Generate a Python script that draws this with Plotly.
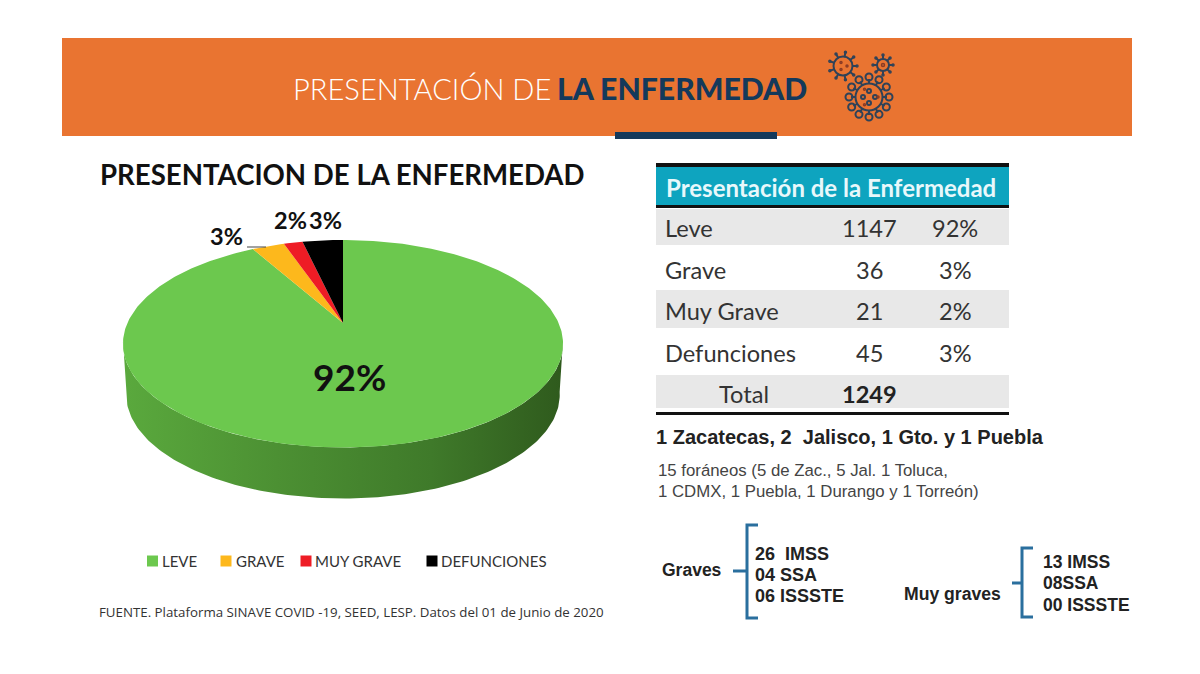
import numpy as np
import plotly.graph_objects as go

# table / pie data
categories = ['Leve', 'Grave', 'Muy Grave', 'Defunciones']
legend_names = ['LEVE', 'GRAVE', 'MUY GRAVE', 'DEFUNCIONES']
casos = [1147, 36, 21, 45]
porcentajes = ['92%', '3%', '2%', '3%']
total = 1249
colores = ['#6cc84e', '#fdb81c', '#ee1c25', '#000000']

graves = ['26  IMSS', '04 SSA', '06 ISSSTE']
muy_graves = ['13 IMSS', '08SSA', '00 ISSSTE']
foraneos = ['15 foráneos (5 de Zac., 5 Jal. 1 Toluca,', '1 CDMX, 1 Puebla, 1 Durango y 1 Torreón)']

NAVY = '#14395b'
BRACE = '#2a6f9e'
ICON = '#2f4258'

# the pie is a tilted disc, so it is drawn in perspective on a pixel axis
CX, CY = 343, 323
SX, SY, K = 215.6, 99.6, 0.2
DEPTH = 51


def disc(theta):
    u, v = np.sin(theta), np.cos(theta)
    return CX + SX * u / (1 + K * v), CY - SY * v / (1 + K * v)


fig = go.Figure()

# side wall
th = np.linspace(np.radians(100), np.radians(260), 160)
wx, wy = disc(th)
bx = CX + (wx - CX) * 0.985
by = wy + DEPTH
fig.add_trace(go.Scatter(
    x=np.concatenate([wx, bx[::-1]]), y=np.concatenate([wy, by[::-1]]),
    mode='lines', line=dict(width=0), fill='toself', showlegend=False, hoverinfo='skip',
    fillgradient=dict(type='horizontal', colorscale=[
        [0, '#5aa93d'], [0.35, '#4c9033'], [0.7, '#3f7a2a'], [1, '#2f5a1d']])))

# slices, clockwise from 12 o'clock
edges = np.cumsum([0] + casos) / sum(casos) * 2 * np.pi
for i, name in enumerate(categories):
    th = np.linspace(edges[i], edges[i + 1], max(int((edges[i + 1] - edges[i]) * 60), 6))
    sx, sy = disc(th)
    fig.add_trace(go.Scatter(
        x=np.concatenate([[CX], sx, [CX]]), y=np.concatenate([[CY], sy, [CY]]),
        mode='lines', line=dict(width=0), fill='toself', fillcolor=colores[i],
        name=name, showlegend=False, hoverinfo='name'))

# legend, spaced by hand because the native one leaves too wide a gap after the swatch
for name, color, lx in zip(legend_names, colores, [152.5, 226, 306, 432]):
    fig.add_trace(go.Scatter(x=[lx], y=[561], mode='markers', name=name, showlegend=False,
                             marker=dict(symbol='square', size=11, color=color)))


# virus icon
def ring(cx, cy, r, n, size, width=2, color=ICON):
    a = np.linspace(0, 2 * np.pi, n, endpoint=False)
    fig.add_trace(go.Scatter(
        x=cx + r * np.cos(a), y=cy + r * np.sin(a), mode='markers', showlegend=False, hoverinfo='skip',
        marker=dict(symbol='circle-open', size=size, color=color, line=dict(width=width, color=color))))


def spikes(cx, cy, r0, r1, n):
    a = np.linspace(0, 2 * np.pi, n, endpoint=False)
    path = ' '.join(f'M {cx + r0 * np.cos(t):.1f} {cy + r0 * np.sin(t):.1f} '
                    f'L {cx + r1 * np.cos(t):.1f} {cy + r1 * np.sin(t):.1f}' for t in a)
    fig.add_shape(type='path', path=path, line=dict(color=ICON, width=2))


ring(843, 66, 0, 1, 19)
spikes(843, 66, 9, 14, 9)
ring(843, 66, 14, 9, 2, 1.5)
ring(843, 66, 4, 3, 2, 1.5, '#8a3b25')
ring(883, 65, 0, 1, 12)
spikes(883, 65, 6, 10, 8)
ring(883, 65, 10, 8, 2, 1.5)
ring(883, 65, 0, 1, 3, 1.5, '#8a3b25')
ring(869, 97, 0, 1, 27)
spikes(869, 97, 13, 18, 12)
ring(869, 97, 20, 12, 7)
ring(869, 97, 6, 4, 4)
ring(869, 97, 9, 3, 2, 1.5, '#8a3b25')


def text(x, y, s, size, color='#222222', family='Lato', weight=400, anchor='left'):
    # annotations carry about 3px of padding on the left
    fig.add_annotation(x=x - 3 if anchor == 'left' else x, y=y, text=s, showarrow=False,
                       xanchor=anchor, yanchor='middle', xref='x', yref='y',
                       font=dict(size=size, color=color, family=family, weight=weight))


def rect(x0, y0, x1, y1, color):
    fig.add_shape(type='rect', x0=x0, y0=y0, x1=x1, y1=y1, fillcolor=color, line_width=0, layer='below')


def brace(x, y0, y1, ym, tick, nub):
    path = f'M {x + tick} {y0} L {x} {y0} L {x} {y1} L {x + tick} {y1} M {x} {ym} L {x - nub} {ym}'
    fig.add_shape(type='path', path=path, line=dict(color=BRACE, width=3), layer='below')


# banner
rect(62, 38, 1132, 136, '#e97431')
rect(615, 132, 777, 139, NAVY)
text(294, 88, 'PRESENTACIÓN DE', 29.1, color='#ffffff', weight=300)
text(558, 88, 'LA ENFERMEDAD', 30.2, color=NAVY, weight=900)

# pie side
text(101, 174, 'PRESENTACION DE LA ENFERMEDAD', 27.6, color='#111111', weight=700)
for (lx, ly), s in zip([(226.5, 236), (290.5, 220), (325.5, 220)], porcentajes[1:]):
    text(lx, ly, s, 23.5, color='#111111', weight=700, anchor='center')
text(349.5, 376, porcentajes[0], 37, color='#111111', weight=700, anchor='center')
fig.add_shape(type='line', x0=247, y0=247, x1=266, y1=247, line=dict(color='#444444', width=1))
for name, lx in zip(legend_names, [163, 237, 316, 442]):
    text(lx, 561, name, 15, color='#333333')
text(100, 612, 'FUENTE. Plataforma SINAVE COVID -19, SEED, LESP. Datos del 01 de Junio de 2020',
     13.3, color='#333333', family='Open Sans')

# table
rect(656, 166, 1009, 206, '#0ea4bf')
rect(656, 163, 1009, 167, '#111111')
rect(656, 205, 1009, 208, '#111111')
rect(656, 412, 1009, 415, '#111111')
for y0, y1 in [(209, 245), (290, 328), (375, 408)]:
    rect(656, y0, 1009, y1, '#e8e8e8')
text(667, 187, 'Presentación de la Enfermedad', 24, color='#e8f8fb', weight=700)
for y, name, n, pct in zip([228, 270, 311, 353], categories, casos, porcentajes):
    text(666, y, name, 23.6, color='#333333')
    text(869, y, str(n), 23.6, color='#333333', anchor='center')
    text(955, y, pct, 23.6, color='#333333', anchor='center')
text(744, 394, 'Total', 23.6, color='#333333', anchor='center')
text(869, 394, str(total), 23.6, color='#222222', weight=700, anchor='center')

# notes
text(657, 437, '1 Zacatecas, 2  Jalisco, 1 Gto. y 1 Puebla', 20, family='Liberation Sans', weight=700)
text(659, 470, foraneos[0], 16.8, color='#444444', family='Liberation Sans')
text(659, 491, foraneos[1], 16.8, color='#444444', family='Liberation Sans')

# braces
brace(747, 525, 618, 571, 11, 14)
text(663, 570, 'Graves', 17.5, family='Liberation Sans', weight=700)
for y, s in zip([554, 575, 596], graves):
    text(756, y, s, 18, family='Liberation Sans', weight=700)
brace(1022, 548, 617, 583, 11, 10)
text(905, 594, 'Muy graves', 17.6, family='Liberation Sans', weight=700)
for y, s in zip([562, 583, 605], muy_graves):
    text(1044, y, s, 17.5, family='Liberation Sans', weight=700)

fig.update_layout(
    width=1200, height=674, margin=dict(l=0, r=0, t=0, b=0),
    paper_bgcolor='white', plot_bgcolor='white', showlegend=False,
    xaxis=dict(range=[0, 1200], visible=False, fixedrange=True),
    yaxis=dict(range=[674, 0], visible=False, fixedrange=True),
)

fig.write_html("out.html", config={'displayModeBar': False},
               post_script="document.body.style.margin = '0';")
